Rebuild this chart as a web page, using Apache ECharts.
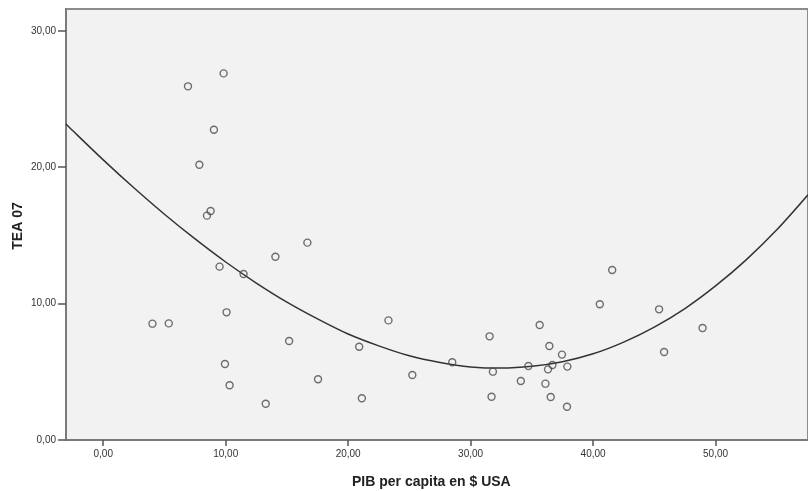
<!DOCTYPE html>
<html>
<head>
<meta charset="utf-8">
<script src="https://cdn.jsdelivr.net/npm/echarts@6/dist/echarts.min.js"></script>
<style>html,body{margin:0;padding:0;background:#fff;}#c{width:808px;height:491px;}</style>
</head>
<body>
<div id="c"></div>
<script>
// Scatter data: PIB per capita (x) vs TEA 07 (y)
const pibX = [9.83, 6.92, 9.04, 7.85, 8.77, 8.47, 16.67, 14.06, 9.5, 11.46, 10.07, 4.02, 5.35, 23.29, 15.18, 20.9, 9.94, 17.54, 25.24, 10.32, 21.12, 13.27,
  41.56, 40.55, 45.39, 48.94, 45.8, 35.64, 31.55, 36.43, 37.46, 28.5, 31.82, 34.72, 36.68, 36.32, 37.9, 34.1, 36.11, 31.71, 36.54, 37.87];
const teaY = [26.88, 25.93, 22.75, 20.18, 16.79, 16.45, 14.47, 13.44, 12.71, 12.17, 9.36, 8.53, 8.55, 8.77, 7.26, 6.84, 5.57, 4.45, 4.77, 4.01, 3.06, 2.66,
  12.46, 9.95, 9.58, 8.21, 6.45, 8.43, 7.6, 6.89, 6.26, 5.7, 5.01, 5.43, 5.5, 5.18, 5.38, 4.33, 4.13, 3.17, 3.15, 2.44];
// Fitted curve, values
const curveX = [-3.04, -2.5, 0, 2.5, 5, 7.5, 10, 12.5, 15, 17.5, 20, 22.5, 25, 27.5, 30, 32.5, 35, 37.5, 40, 42.5, 45, 47.5, 50, 52.5, 55, 57.55];
const curveY = [23.17, 22.69, 20.54, 18.49, 16.55, 14.74, 13.05, 11.51, 10.11, 8.88, 7.77, 6.9, 6.17, 5.68, 5.36, 5.27, 5.4, 5.74, 6.32, 7.18, 8.28, 9.64, 11.3, 13.21, 15.41, 17.98];
// Tick labels
const xTicks = [0, 10, 20, 30, 40, 50];
const yTicks = [0, 10, 20, 30];
const xTitle = 'PIB per capita en $ USA';
const yTitle = 'TEA 07';

const fmt = v => v.toFixed(2).replace('.', ',');
const FONT = '"Liberation Sans", Arial, sans-serif';

const chart = echarts.init(document.getElementById('c'), null, {renderer: 'canvas'});
chart.setOption({
  animation: false,
  backgroundColor: '#ffffff',
  grid: {
    left: 66, top: 9, right: -2, bottom: 51,
    show: true, backgroundColor: '#f2f2f2', borderColor: '#8c8c8c', borderWidth: 2
  },
  xAxis: {
    type: 'value', min: -3.04, max: 57.55,
    axisLine: {show: true, onZero: false, lineStyle: {color: '#7a7a7a', width: 2}},
    axisTick: {show: true, customValues: xTicks, length: 6, lineStyle: {color: '#555', width: 1.5}},
    axisLabel: {customValues: xTicks, formatter: fmt, color: '#333', fontSize: 10, fontFamily: FONT, margin: 9},
    splitLine: {show: false}
  },
  yAxis: {
    type: 'value', min: 0, max: 31.6,
    axisLine: {show: true, onZero: false, lineStyle: {color: '#7a7a7a', width: 2}},
    axisTick: {show: true, customValues: yTicks, length: 8, lineStyle: {color: '#555', width: 1.5}},
    axisLabel: {customValues: yTicks, formatter: fmt, color: '#333', fontSize: 10, fontFamily: FONT, margin: 10},
    splitLine: {show: false}
  },
  graphic: [
    {type: 'text', left: 442 - 90, top: 475, style: {text: xTitle, font: 'bold 14px ' + FONT, fill: '#222', width: 180, align: 'center'}, z: 10},
    {type: 'text', x: 18, y: 226, rotation: Math.PI / 2,
     style: {text: yTitle, font: 'bold 14px ' + FONT, fill: '#222', align: 'center', verticalAlign: 'middle'}, z: 10}
  ],
  series: [
    {
      type: 'line',
      data: curveX.map((x, i) => [x, curveY[i]]),
      smooth: 0.3,
      showSymbol: false,
      lineStyle: {color: '#333', width: 1.5},
      z: 2
    },
    {
      type: 'scatter',
      data: pibX.map((x, i) => [x, teaY[i]]),
      symbol: 'circle',
      symbolSize: 7,
      itemStyle: {color: 'rgba(0,0,0,0)', borderColor: '#4a4a4a', borderWidth: 1.4},
      z: 3
    }
  ]
});
</script>
</body>
</html>
